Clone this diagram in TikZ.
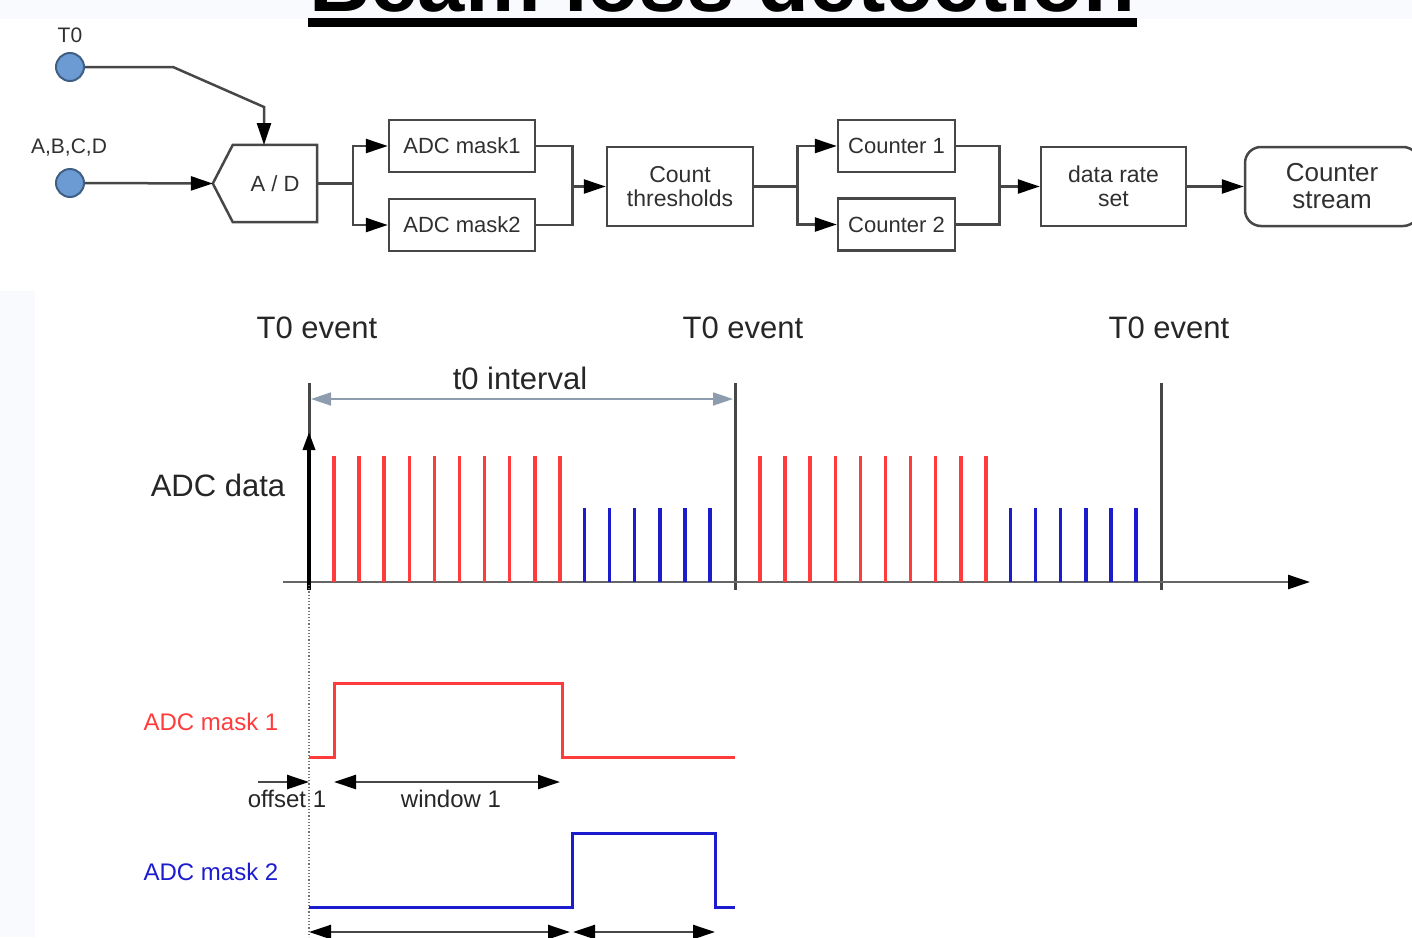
\documentclass[tikz,border=0pt]{standalone}
\usepackage{fontspec}
\setmainfont{Liberation Sans}
\usetikzlibrary{arrows.meta,positioning}

\definecolor{linegray}{HTML}{474747}
\definecolor{textgray}{HTML}{303030}
\definecolor{bluedot}{HTML}{6B9BD2}
\definecolor{dotedge}{HTML}{3F5F85}
\definecolor{maskred}{HTML}{FF3B3B}
\definecolor{maskblue}{HTML}{1C1CCF}
\definecolor{intgray}{HTML}{8E9DAD}
\definecolor{paleback}{HTML}{F9FAFE}

\begin{document}
\begin{tikzpicture}[x=1pt,y=-1pt,
    wire/.style={draw=linegray,line width=2.5pt},
    tip/.style={-{Triangle[length=22pt,width=14pt,color=black]}},
    tips/.style={{Triangle[length=22pt,width=14pt,color=black]}-{Triangle[length=22pt,width=14pt,color=black]}},
    box/.style={draw=linegray,line width=2.5pt,rectangle,inner sep=0pt,text=textgray,
        align=center,font=\fontsize{22}{24}\selectfont},
    dot/.style={circle,draw=dotedge,fill=bluedot,line width=2pt,minimum size=28pt,inner sep=0pt},
    lbl/.style={text=textgray,font=\fontsize{21}{23}\selectfont},
    big/.style={text=black!85,font=\fontsize{31}{33}\selectfont},
    mid/.style={font=\fontsize{24}{26}\selectfont},
    redtick/.style={draw=maskred,line width=3.5pt},
    bluetick/.style={draw=maskblue,line width=3.5pt}]
    \useasboundingbox (0,0) rectangle (1412,937);
    \clip (0,0) rectangle (1412,937);
    \fill[paleback] (0,0) rectangle (1412,19);
    \fill[paleback] (0,291) rectangle (35,937);

    % title, cut by the top edge
    \node[anchor=base,font=\fontsize{85}{90}\selectfont\bfseries] (title) at (722.5,11) {Beam loss detection};
    \fill[black] (308,18) rectangle (1137,27);

    % block diagram
    \node[dot] (t0) at (70,67) {};
    \node[lbl] at (70,35) {T0};
    \node[dot] (abcd) at (70,183) {};
    \node[lbl] at (69,148) {A,B,C,D};
    \node[text=textgray,font=\fontsize{22}{24}\selectfont,minimum width=84pt,minimum height=77pt,inner sep=0pt] (ad) at (275,183.5) {A / D};
    \draw[wire] (ad.north west) -- (ad.north east) -- (ad.south east) -- (ad.south west) -- ([xshift=-20pt]ad.west) -- cycle;

    \node[box,minimum width=146pt,minimum height=52pt] (m1) at (462,146) {ADC mask1};
    \node[box,minimum width=146pt,minimum height=52pt] (m2) at (462,225) {ADC mask2};
    \node[box,minimum width=146pt,minimum height=79pt,font=\fontsize{23}{24}\selectfont] (cnt) at (680,186.5) {Count\\thresholds};
    \node[box,minimum width=117pt,minimum height=52pt] (c1) at (896.5,146) {Counter 1};
    \node[box,minimum width=117pt,minimum height=52pt] (c2) at (896.5,224.5) {Counter 2};
    \node[box,minimum width=145pt,minimum height=79pt,font=\fontsize{23}{24}\selectfont] (rate) at (1113.5,186.5) {data rate\\set};
    \node[box,minimum width=174pt,minimum height=79pt,rounded corners=16pt,font=\fontsize{26}{27}\selectfont] (stream) at (1332,186.5) {Counter\\stream};

    \draw[wire,tip] (t0.east) -- ++(88,0) -- ++(91,40) -- ++(0,38);
    \draw[wire,tip] (abcd.east) -- ([xshift=-20pt]ad.west);
    \draw[wire] (ad.east) -- ++(36,0) coordinate (s1);
    \draw[wire,tip] (s1) |- (m1.west);
    \draw[wire,tip] (s1) |- (m2.west);
    \draw[wire] (m1.east) -- ++(36,0) coordinate (j1) -- (j1 |- m2.east) -- (m2.east);
    \draw[wire,tip] (j1 |- cnt.west) -- (cnt.west);
    \draw[wire] (cnt.east) -- ++(43,0) coordinate (s2);
    \draw[wire,tip] (s2) |- (c1.west);
    \draw[wire,tip] (s2) |- (c2.west);
    \draw[wire] (c1.east) -- ++(43,0) coordinate (j2) -- (j2 |- c2.east) -- (c2.east);
    \draw[wire,tip] (j2 |- rate.west) -- (rate.west);
    \draw[wire,tip] (rate.east) -- (stream.west);

    % timing of the ADC data
    \pgfmathsetmacro{\period}{426}
    \pgfmathsetmacro{\gap}{25.1}
    \foreach \n in {1,2,3} {
        \pgfmathsetmacro{\xe}{309+(\n-1)*\period}
        \coordinate (e\n) at (\xe,383);
        \node[big] (ev\n) at ({\xe+8},328) {T0 event};
        \draw[draw=linegray,line width=3pt] (e\n) -- ++(0,207);
    }
    \coordinate (xs) at (283,582);
    \coordinate (xe) at (1310,582);
    \draw[draw=black!60,line width=2.5pt,-{Triangle[length=22pt,width=14pt,color=black]}] (xs) -- (xe);
    \draw[line width=3.5pt,-{Triangle[length=18pt,width=12pt]}] ([yshift=-8pt]xs -| e1) -- (309,432);
    \draw[intgray,line width=1.8pt,{Triangle[length=20pt,width=13pt]}-{Triangle[length=20pt,width=13pt]}] ([xshift=2pt,yshift=-16pt]e1) -- ([xshift=-2pt,yshift=-16pt]e2);
    \node[big] (int) at (520,378) {t0 interval};
    \node[big] (data) at (218,485) {ADC data};
    \foreach \p in {0,1} {
        \foreach \k in {0,...,9} {
            \draw[redtick] ({334+\k*\gap+\p*\period},582) -- ++(0,-126);
        }
        \foreach \k in {0,...,5} {
            \draw[bluetick] ({584.5+\k*\gap+\p*\period},582) -- ++(0,-74);
        }
    }
    \draw[black!55,line width=1.2pt,dotted] (309,585) -- (309,937);

    % the two masks
    \node[mid,text=maskred] (lm1) at (211,722) {ADC mask 1};
    \node[mid,text=maskblue] (lm2) at (211,872) {ADC mask 2};
    \draw[maskred,line width=3pt] (309,757) -- (334,757) -- (334,683) -- (562,683) -- (562,757) -- (735,757);
    \draw[maskblue,line width=3pt] (309,907) -- (572,907) -- (572,833) -- (715,833) -- (715,907) -- (735,907);

    \coordinate (o0) at (258,782);
    \coordinate (o1) at (309,782);
    \coordinate (w0) at (334,782);
    \coordinate (w1) at (560,782);
    \draw[wire,tip] (o0) -- (o1);
    \draw[wire,tips] (w0) -- (w1);
    \node[mid,text=black!85] (loff) at (287,799) {offset 1};
    \node[mid,text=black!85] (lwin) at (451,799) {window 1};
    \coordinate (b0) at (309,932);
    \coordinate (b1) at (570,932);
    \coordinate (b2) at (573,932);
    \coordinate (b3) at (715,932);
    \draw[wire,tips] (b0) -- (b1);
    \draw[wire,tips] (b2) -- (b3);
\end{tikzpicture}
\end{document}
